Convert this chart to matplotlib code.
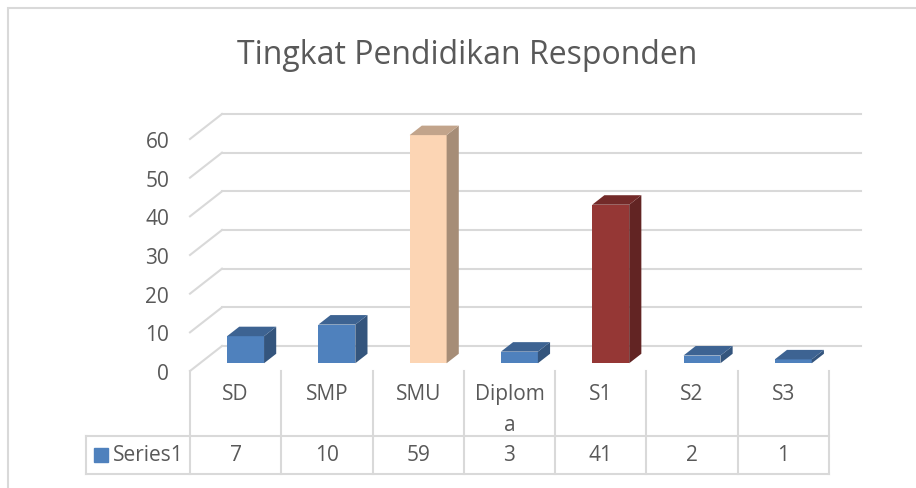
import textwrap
import numpy as np
import matplotlib
matplotlib.use("Agg")
import matplotlib.pyplot as plt
from matplotlib.patches import Polygon, Rectangle

# data
categories = ["SD", "SMP", "SMU", "Diploma", "S1", "S2", "S3"]
values = [7, 10, 59, 3, 41, 2, 1]
series_name = "Series1"
bar_colors = ["#4F81BD", "#4F81BD", "#FCD5B4", "#4F81BD", "#953735", "#4F81BD", "#4F81BD"]
y_ticks = [0, 10, 20, 30, 40, 50, 60]
title = "Tingkat Pendidikan Responden"

plt.rcParams["font.family"] = ["Open Sans", "DejaVu Sans"]
TEXT = "#595959"
GRID = "#d9d9d9"
FS = 15

W, H = 916, 489
fig = plt.figure(figsize=(W / 100, H / 100), dpi=100)

# chart frame
fig.patches.append(Rectangle((8 / W, -0.1), 1.2, 1.1 - 9 / H, transform=fig.transFigure,
                             fill=False, edgecolor=GRID, lw=1.5))
fig.text(467 / W, 1 - 55 / H, title, ha="center", va="center", fontsize=23, color=TEXT)

# front plane of the 3d plot
ax = fig.add_axes([190 / W, (H - 372) / H, 639 / W, 232 / H])
n = len(categories)
ax.set_xlim(0, n)
ax.set_ylim(0, 60)
for s in ax.spines.values():
    s.set_visible(False)
ax.set_xticks([])
ax.set_yticks(y_ticks)
ax.set_yticklabels([str(t) for t in y_ticks], fontsize=FS, color=TEXT)
ax.tick_params(axis="y", length=0, pad=15)
ax.patch.set_alpha(0)

# depth of the floor in data units
px_x = 639 / n
px_y = 232 / 60
DX = 32 / px_x
DY = 25 / px_y

# back wall gridlines + left side diagonals
for t in y_ticks:
    ax.plot([DX, n + DX], [t + DY, t + DY], color=GRID, lw=1.5, clip_on=False, zorder=1)
    ax.plot([0, DX], [t, t + DY], color=GRID, lw=1.5, clip_on=False, zorder=1)


def shade(c, f):
    rgb = np.array(matplotlib.colors.to_rgb(c)) * f
    return tuple(rgb)


# bars
w = 0.405
d0, d1 = 0.31, 0.69
for i, (v, c) in enumerate(zip(values, bar_colors)):
    xl = i + 0.5 - w / 2
    xr = i + 0.5 + w / 2
    fx, fy = d0 * DX, d0 * DY
    bx, by = d1 * DX, d1 * DY
    front = Polygon([(xl + fx, fy), (xr + fx, fy), (xr + fx, v + fy), (xl + fx, v + fy)],
                    closed=True, facecolor=c, edgecolor="none", clip_on=False, zorder=3)
    side = Polygon([(xr + fx, fy), (xr + bx, by), (xr + bx, v + by), (xr + fx, v + fy)],
                   closed=True, facecolor=shade(c, 0.66), edgecolor="none", clip_on=False, zorder=3)
    top = Polygon([(xl + fx, v + fy), (xr + fx, v + fy), (xr + bx, v + by), (xl + bx, v + by)],
                  closed=True, facecolor=shade(c, 0.77), edgecolor="none", clip_on=False, zorder=3)
    for p in (front, side, top):
        ax.add_patch(p)

# data table
row_top = 0
row_mid = -(437 - 372) / px_y
row_bot = -(475 - 372) / px_y
left = -(190 - 85.7) / px_x
tkw = dict(color=GRID, lw=1.5, clip_on=False, zorder=2)
for k in range(n + 1):
    ax.plot([k, k], [row_top, row_bot], **tkw)
ax.plot([left, left], [row_mid, row_bot], **tkw)
ax.plot([left, n], [row_mid, row_mid], **tkw)
ax.plot([left, n], [row_bot, row_bot], **tkw)

head_y = -(384 - 372) / px_y
val_y = -(456 - 372) / px_y
for i, (cat, v) in enumerate(zip(categories, values)):
    ax.text(i + 0.5, head_y, textwrap.fill(cat, 6), ha="center", va="top", fontsize=FS,
            color=TEXT, linespacing=1.6, clip_on=False)
    ax.text(i + 0.5, val_y, str(v), ha="center", va="center", fontsize=FS, color=TEXT, clip_on=False)

ax.plot([-(190 - 100.5) / px_x], [val_y], marker="s", ms=9.5, color=bar_colors[0],
        clip_on=False, linestyle="none")
ax.text(-(190 - 113) / px_x, val_y, series_name, ha="left", va="center", fontsize=FS,
        color=TEXT, clip_on=False)

fig.savefig("out.png", dpi=100)
